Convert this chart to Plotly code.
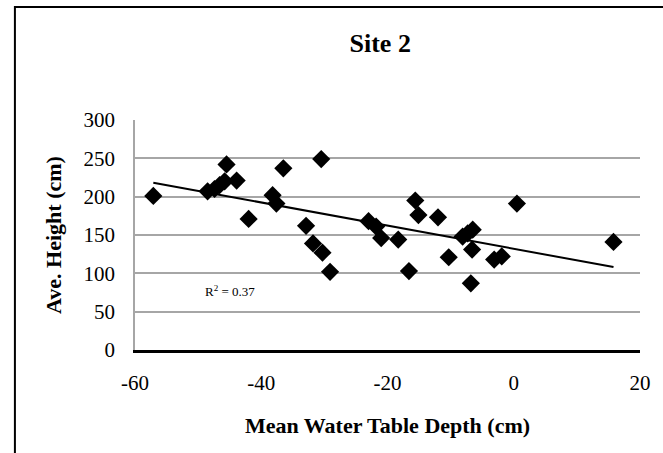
import numpy as np
import plotly.graph_objects as go

# Mean water table depth (cm) and average plant height (cm) at Site 2
depth = [-57.1, -48.5, -47.4, -46.6, -45.8, -45.5, -43.9, -42.0, -38.2, -37.6,
         -36.5, -32.9, -31.8, -30.3, -30.5, -29.1, -23.0, -21.8, -21.0, -18.3,
         -16.6, -15.6, -15.1, -12.0, -10.3, -8.1, -7.3, -6.5, -6.6, -6.8,
         -3.1, -1.9, 0.5, 15.8]
height = [201, 207, 210, 215, 220, 242, 221, 171, 202, 191,
          237, 162, 139, 127, 249, 102, 168, 161, 146, 144,
          103, 195, 176, 173, 121, 148, 152, 157, 131, 87,
          118, 122, 191, 141]

x_ticks = [-60, -40, -20, 0, 20]
x_labels = ["-60", "-40", "-20", "0", "20"]
y_ticks = [0, 50, 100, 150, 200, 250, 300]
y_labels = ["0", "50", "100", "150", "200", "250", "300"]

# Linear trend line over the observed depth range
slope, intercept = np.polyfit(depth, height, 1)
x_fit = np.array([min(depth), max(depth)])
y_fit = slope * x_fit + intercept

FONT = "Liberation Serif, Times New Roman, serif"

fig = go.Figure()
fig.add_trace(go.Scatter(
    x=x_fit, y=y_fit, mode="lines",
    line=dict(color="black", width=2), showlegend=False, hoverinfo="skip"))
fig.add_trace(go.Scatter(
    x=depth, y=height, mode="markers",
    marker=dict(symbol="diamond", size=14, color="black", line=dict(width=0)),
    showlegend=False))

fig.add_annotation(
    x=-45, y=77, xref="x", yref="y", text="R<sup>2</sup> = 0.37",
    showarrow=False, font=dict(family=FONT, size=13, color="black"))

# Outer chart frame
fig.add_shape(type="rect", xref="paper", yref="paper",
              x0=-0.2378, x1=1.05, y0=-0.47, y1=1.491,
              line=dict(color="black", width=2), fillcolor="rgba(0,0,0,0)",
              layer="below")

fig.update_layout(
    width=663, height=453,
    margin=dict(l=135, r=15, t=120, b=103),
    paper_bgcolor="white", plot_bgcolor="white",
    font=dict(family=FONT, size=21, color="black"),
    title=dict(text="<b>Site 2</b>", x=0.5735, xanchor="center",
               y=0.905, yanchor="middle",
               font=dict(family=FONT, size=26, color="black")),
    xaxis=dict(range=[-60, 20], tickvals=x_ticks, ticktext=x_labels, ticks="",
               showgrid=False, zeroline=False,
               showline=True, linecolor="black", linewidth=2.5,
               ticklabelstandoff=12,
               title=dict(text="<b>Mean Water Table Depth (cm)</b>",
                          font=dict(family=FONT, size=22), standoff=24)),
    yaxis=dict(range=[0, 300], tickvals=y_ticks, ticktext=y_labels, ticks="",
               showgrid=True, gridcolor="#a6a6a6", gridwidth=2,
               zeroline=False, showline=True, linecolor="#a6a6a6", linewidth=1.5,
               ticklabelstandoff=14,
               title=dict(text="<b>Ave. Height (cm)</b>",
                          font=dict(family=FONT, size=22), standoff=16)),
)

fig.write_html("out.html")
